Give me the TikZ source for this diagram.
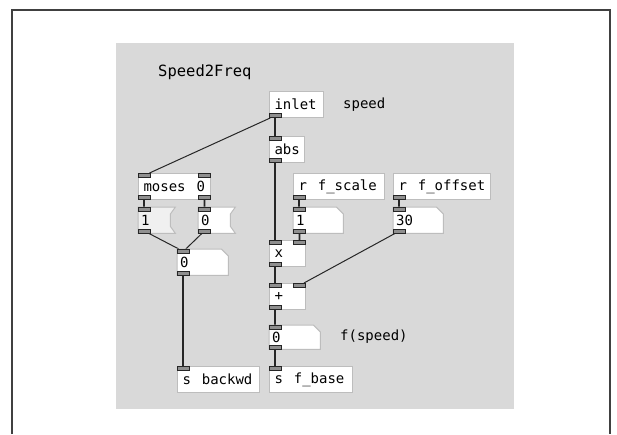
\documentclass[tikz,border=0pt]{standalone}
\usepackage{fontspec}
\setmonofont{DejaVu Sans Mono}
\usepackage{tikz}
\usetikzlibrary{calc}
\usepackage{xcolor}
\definecolor{pdpanel}{HTML}{D9D9D9}
\definecolor{pdedge}{HTML}{BDBDBD}
\definecolor{pdport}{HTML}{8F8F8F}
\definecolor{pdwire}{HTML}{262626}
\newcommand{\pdfont}{\ttfamily\fontsize{14}{16}\selectfont}
\newcommand{\pdsp}{\hspace{0.78em}}
\pgfdeclarelayer{panel}
\pgfdeclarelayer{wires}
\pgfdeclarelayer{boxes}
\pgfsetlayers{panel,wires,boxes,main}
\tikzset{
  pdobj/.style={
    draw=pdedge,
    fill=white,
    line width=1pt,
    anchor=north west,
    minimum height=26pt,
    inner xsep=5pt,
    inner ysep=0pt,
    text width=#1,
    font=\pdfont
  },
  pdnum/.style={
    anchor=north west,
    minimum height=26pt,
    inner xsep=3pt,
    inner ysep=0pt,
    text width=#1,
    font=\pdfont
  },
  numedge/.style={
    draw=pdedge,
    fill=white,
    line width=1pt
  },
  pdlabel/.style={
    anchor=west,
    inner sep=0pt,
    font=\pdfont
  },
  port/.style={
    draw=black!85,
    fill=pdport,
    line width=0.7pt,
    minimum width=12pt,
    minimum height=4pt,
    inner sep=0pt
  },
  wire/.style={
    draw=pdwire,
    line width=1.8pt
  },
  slantwire/.style={
    draw=pdwire,
    line width=1pt
  }
}

\begin{document}
\begin{tikzpicture}[x=1pt, y=-1pt]
\useasboundingbox (0,0) rectangle (617,434);
\draw[black!75, line width=1.2pt] (12,434) -- (12,10) -- (610,10) -- (610,434);
\begin{pgfonlayer}{panel}
  \fill[pdpanel] (116,43) rectangle (514,409);
\end{pgfonlayer}

% comments
\node[pdlabel, font=\ttfamily\fontsize{15.5}{17}\selectfont] (title) at (158,72) {Speed2Freq};
\node[pdlabel] (speedlbl) at (343,105) {speed};
\node[pdlabel] (fspeedlbl) at (340,337) {f(speed)};

% objects
\node[pdobj=44pt] (inlet) at (269,91) {inlet};
\node[pdobj=25pt] (abs) at (269,136) {abs};
\node[pdobj=62pt] (moses) at (138,173) {moses\pdsp 0};
\node[pdobj=81pt] (rfscale) at (293,173) {r\pdsp f\_scale};
\node[pdobj=87pt] (rfoffset) at (393,173) {r\pdsp f\_offset};
\node[pdobj=26pt] (x) at (269,240) {x};
\node[pdobj=26pt] (plus) at (269,283) {+};
\node[pdobj=72pt] (sbackwd) at (177,366) {s\pdsp backwd};
\node[pdobj=73pt] (sfbase) at (269,366) {s\pdsp f\_base};

% number boxes
\node[pdnum=31pt] (num1) at (138,207) {1};
\node[pdnum=31pt] (num0a) at (198,207) {0};
\node[pdnum=44pt] (numscale) at (293,207) {1};
\node[pdnum=44pt] (num30) at (393,207) {30};
\node[pdnum=45pt] (numsum) at (177,249) {0};
\node[pdnum=45pt, minimum height=24pt] (numf) at (269,325) {0};

\begin{pgfonlayer}{boxes}
  \path[numedge, fill=black!6] (num1.north west) -- (num1.north east) -- ($(num1.north east)+(-5,7)$)
    -- ($(num1.south east)+(-5,-7)$) -- (num1.south east) -- (num1.south west) -- cycle;
  \path[numedge] (num0a.north west) -- (num0a.north east) -- ($(num0a.north east)+(-5,7)$)
    -- ($(num0a.south east)+(-5,-7)$) -- (num0a.south east) -- (num0a.south west) -- cycle;
  \foreach \n in {numscale,num30,numsum,numf}
    \path[numedge] (\n.north west) -- ($(\n.north east)+(-7,0)$) -- ($(\n.north east)+(0,7)$)
      -- (\n.south east) -- (\n.south west) -- cycle;
\end{pgfonlayer}

% ports
\foreach \n in {abs,moses,x,plus,sbackwd,sfbase,num1,num0a,numscale,num30,numsum,numf}
  \node[port, anchor=north west] (\n-i0) at (\n.north west) {};
\foreach \n in {moses,x,plus}
  \node[port, anchor=north east] (\n-i1) at (\n.north east) {};
\foreach \n in {inlet,abs,moses,x,plus,rfscale,rfoffset,num1,num0a,numscale,num30,numsum,numf}
  \node[port, anchor=south west] (\n-o0) at (\n.south west) {};
\node[port, anchor=south east] (moses-o1) at (moses.south east) {};

% connections
\begin{pgfonlayer}{wires}
  \draw[wire] (inlet-o0) -- (abs-i0);
  \draw[slantwire] (inlet-o0) -- (moses-i0);
  \draw[wire] (abs-o0) -- (x-i0);
  \draw[wire] (moses-o0) -- (num1-i0);
  \draw[wire] (moses-o1) -- (num0a-i0);
  \draw[slantwire] (num1-o0) -- (numsum-i0);
  \draw[slantwire] (num0a-o0) -- (numsum-i0);
  \draw[wire] (numsum-o0) -- (sbackwd-i0);
  \draw[wire] (rfscale-o0) -- (numscale-i0);
  \draw[wire] (numscale-o0) -- (x-i1);
  \draw[wire] (x-o0) -- (plus-i0);
  \draw[wire] (rfoffset-o0) -- (num30-i0);
  \draw[slantwire] (num30-o0) -- (plus-i1);
  \draw[wire] (plus-o0) -- (numf-i0);
  \draw[wire] (numf-o0) -- (sfbase-i0);
\end{pgfonlayer}
\end{tikzpicture}
\end{document}
